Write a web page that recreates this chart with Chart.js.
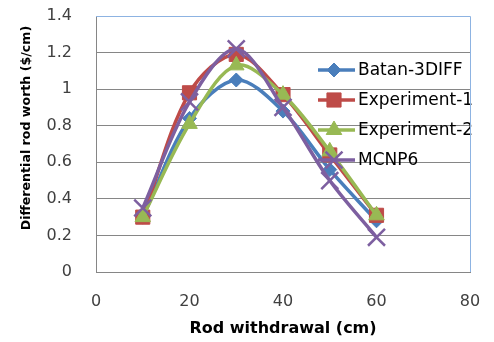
<!DOCTYPE html>
<html><head><meta charset="utf-8">
<script src="https://cdn.jsdelivr.net/npm/chart.js@4/dist/chart.umd.min.js"></script>
<style>html,body{margin:0;padding:0;background:#fff}#wrap{width:494px;height:342px}</style>
</head><body><div id="wrap"><canvas id="c" width="494" height="342"></canvas></div>
<script>
const rodPositions = [10, 20, 30, 40, 50, 60];
const batan3diff = [0.30, 0.84, 1.05, 0.88, 0.56, 0.28];
const experiment1 = [0.30, 0.98, 1.19, 0.97, 0.64, 0.31];
const experiment2 = [0.30, 0.81, 1.13, 0.97, 0.66, 0.31];
const mcnp6 = [0.35, 0.93, 1.22, 0.90, 0.50, 0.19];
const seriesNames = ['Batan-3DIFF', 'Experiment-1', 'Experiment-2', 'MCNP6'];
const xTicks = [0, 20, 40, 60, 80];
const yTicks = [0, 0.2, 0.4, 0.6, 0.8, 1, 1.2, 1.4];
const xTitle = 'Rod withdrawal (cm)';
const yTitle = 'Differential rod worth ($/cm)';

const colors = ['#4A7EBB', '#BE4B48', '#98B954', '#7D5FA0'];
const styles = ['rectRot', 'rect', 'triangle', 'crossRot'];
const radii = [7, 10, 9, 12];
const allData = [batan3diff, experiment1, experiment2, mcnp6];
const FONT = '"DejaVu Sans", sans-serif';

const pts = arr => rodPositions.map((x, i) => ({x: x, y: arr[i]}));
const datasets = allData.map((arr, i) => ({
  label: seriesNames[i],
  data: pts(arr),
  borderColor: colors[i],
  backgroundColor: colors[i],
  borderWidth: 3.5,
  pointStyle: styles[i],
  pointRadius: radii[i],
  pointBorderWidth: i === 3 ? 2.5 : 1,
  pointBorderColor: colors[i],
  pointBackgroundColor: colors[i],
  tension: 0.33,
  order: 4 - i
}));

const legendPlugin = {
  id: 'overlayLegend',
  afterDraw(chart) {
    const ctx = chart.ctx;
    const ys = [70, 100, 130, 160];
    chart.data.datasets.forEach((ds, i) => {
      const y = ys[i];
      ctx.save();
      ctx.strokeStyle = ds.borderColor;
      ctx.lineWidth = 3.5;
      ctx.beginPath(); ctx.moveTo(318, y); ctx.lineTo(355, y); ctx.stroke();
      ctx.fillStyle = ds.backgroundColor;
      ctx.lineWidth = ds.pointBorderWidth;
      Chart.helpers.drawPoint(ctx, {pointStyle: ds.pointStyle, radius: ds.pointRadius, rotation: 0, borderWidth: ds.pointBorderWidth}, 334, y);
      ctx.fillStyle = '#000';
      ctx.font = '17px ' + FONT;
      ctx.textBaseline = 'middle';
      ctx.fillText(ds.label, 358, y + 1);
      ctx.restore();
    });
  }
};

const yTitlePlugin = {
  id: 'yTitle',
  afterDraw(chart) {
    const ctx = chart.ctx;
    ctx.save();
    ctx.translate(27, 128);
    ctx.rotate(-Math.PI / 2);
    ctx.fillStyle = '#000';
    ctx.font = 'bold 12.6px ' + FONT;
    ctx.textAlign = 'center';
    ctx.textBaseline = 'middle';
    ctx.fillText(yTitle, 0, 0);
    ctx.restore();
  }
};

const borderPlugin = {
  id: 'plotBorder',
  afterDraw(chart) {
    const a = chart.chartArea, ctx = chart.ctx;
    ctx.save();
    ctx.strokeStyle = '#8DB3E2';
    ctx.lineWidth = 1;
    ctx.beginPath();
    ctx.moveTo(a.left, Math.round(a.top) + 0.5); ctx.lineTo(Math.round(a.right) + 0.5, Math.round(a.top) + 0.5); ctx.lineTo(Math.round(a.right) + 0.5, a.bottom);
    ctx.stroke();
    ctx.restore();
  }
};

new Chart(document.getElementById('c'), {
  type: 'line',
  data: {datasets},
  options: {
    responsive: false,
    animation: false,
    layout: {padding: {top: 16, right: 24, left: 14, bottom: 0}},
    plugins: {legend: {display: false}, tooltip: {enabled: false}},
    scales: {
      x: {
        type: 'linear', min: 0, max: 80,
        afterBuildTicks: s => { s.ticks = xTicks.map(v => ({value: v})); },
        afterFit: s => { s.height = 70; s.paddingLeft = 0; s.paddingRight = 0; },
        grid: {display: false, drawTicks: false},
        border: {color: '#868686', width: 1},
        ticks: {color: '#404040', font: {family: FONT, size: 16}, padding: 20, maxRotation: 0},
        title: {display: true, text: xTitle, color: '#000', font: {family: FONT, size: 16, weight: 'bold'}, padding: {top: 2}}
      },
      y: {
        type: 'linear', min: 0, max: 1.4,
        afterBuildTicks: s => { s.ticks = yTicks.map(v => ({value: v})); },
        afterFit: s => { s.width = 82; s.paddingTop = 0; s.paddingBottom = 0; },
        grid: {color: '#868686', drawTicks: false},
        border: {color: '#868686', width: 1},
        ticks: {color: '#404040', font: {family: FONT, size: 16}, padding: 24, callback: v => String(v)},
        title: {display: false}
      }
    }
  },
  plugins: [legendPlugin, yTitlePlugin, borderPlugin]
});
</script></body></html>
